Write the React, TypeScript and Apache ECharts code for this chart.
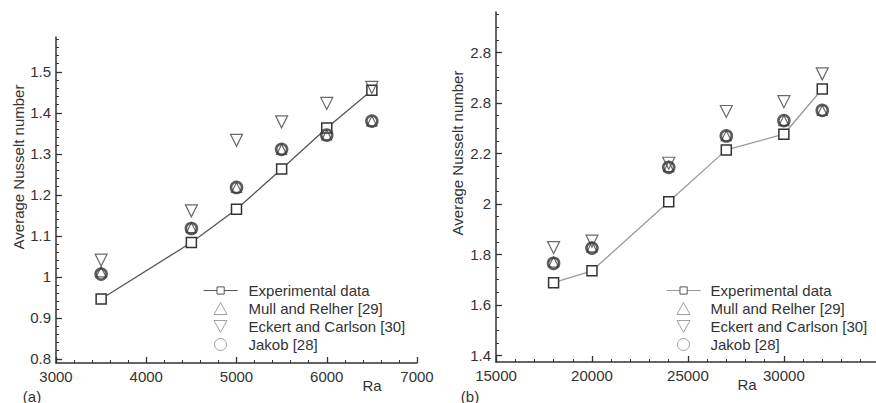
import React, { useEffect, useRef } from "react";
import * as echarts from "echarts";

// Panel (a)
const raA = [3500, 4500, 5000, 5500, 6000, 6500];
const expA = [0.946, 1.084, 1.165, 1.263, 1.363, 1.455];
const mullA = [1.012, 1.12, 1.218, 1.311, 1.346, 1.38];
const eckertA = [1.041, 1.161, 1.333, 1.378, 1.423, 1.462];
const jakobA = [1.007, 1.118, 1.218, 1.311, 1.346, 1.38];
const xTicksA = [3000, 4000, 5000, 6000, 7000];
const yTicksA = [0.8, 0.9, 1.0, 1.1, 1.2, 1.3, 1.4, 1.5];
const yLabelsA = ["0.8", "0.9", "1", "1.1", "1.2", "1.3", "1.4", "1.5"];

// Panel (b)
const raB = [18000, 20000, 24000, 27000, 30000, 32000];
const expB = [1.688, 1.735, 2.009, 2.214, 2.276, 2.455];
const mullB = [1.77, 1.83, 2.148, 2.27, 2.33, 2.37];
const eckertB = [1.827, 1.853, 2.161, 2.366, 2.405, 2.515];
const jakobB = [1.765, 1.825, 2.145, 2.269, 2.33, 2.37];
const xTicksB = [15000, 20000, 25000, 30000];
const yTicksB = [1.4, 1.6, 1.8, 2.0, 2.2, 2.4, 2.6];
const yLabelsB = ["1.4", "1.6", "1.8", "2", "2.2", "2.8", "2.8"];

const names = ["Experimental data", "Mull and Relher [29]", "Eckert and Carlson [30]", "Jakob [28]"];

const steps = (a: number, b: number, s: number) => {
  const out: number[] = [];
  const n = Math.round((b - a) / s);
  for (let i = 0; i <= n; i++) out.push(+(a + i * s).toFixed(4));
  return out;
};

const FONT = "Liberation Sans, Arial, sans-serif";
const TXT = "#333";
const AX = "#333";
const DOWN_TRI = "path://M0,0 L12,0 L6,11 Z";

export default function App() {
  const ref = useRef<HTMLDivElement>(null);
  useEffect(() => {
    if (!ref.current) return;
    const chart = echarts.init(ref.current, undefined, { renderer: "svg" });

    const majorAxis = (type: "x" | "y", gridIndex: number, min: number, max: number, ticks: number[], labels: string[]) => ({
      type: "value",
      gridIndex,
      min,
      max,
      position: type === "x" ? "bottom" : "left",
      axisLine: { show: true, onZero: false, lineStyle: { color: AX, width: 1.5 } },
      axisTick: { show: true, inside: true, length: 6, customValues: ticks, lineStyle: { color: AX, width: 1.3 } },
      axisLabel: {
        show: true,
        customValues: ticks,
        margin: type === "x" ? 6 : 5,
        color: TXT,
        fontFamily: FONT,
        fontSize: 15,
        formatter: (v: number) => {
          const i = ticks.findIndex((t) => Math.abs(t - v) < 1e-6);
          return i >= 0 ? labels[i] : "";
        },
      },
      splitLine: { show: false },
    });
    const minorAxis = (type: "x" | "y", gridIndex: number, min: number, max: number, ticks: number[]) => ({
      type: "value",
      gridIndex,
      min,
      max,
      position: type === "x" ? "bottom" : "left",
      axisLine: { show: false, onZero: false },
      axisTick: { show: true, inside: true, length: 3, customValues: ticks, lineStyle: { color: AX, width: 1 } },
      axisLabel: { show: false },
      splitLine: { show: false },
    });

    const sym = (panel: number, lineColor: string, ra: number[], e: number[], m: number[], k: number[], j: number[]) => {
      const xi = panel * 2;
      const yi = panel * 2;
      const zip = (v: number[]) => ra.map((r, i) => [r, v[i]]);
      return [
        {
          name: names[0], type: "line", xAxisIndex: xi, yAxisIndex: yi, data: zip(e),
          symbol: "rect", symbolSize: 10, showSymbol: true,
          lineStyle: { color: lineColor, width: 1.3 },
          itemStyle: { color: "#fff", borderColor: "#333", borderWidth: 1.5 },
          z: 3,
        },
        {
          name: names[1], type: "scatter", xAxisIndex: xi, yAxisIndex: yi, data: zip(m),
          symbol: "triangle", symbolSize: 10,
          itemStyle: { color: "transparent", borderColor: "#444", borderWidth: 1.2 },
          z: 4,
        },
        {
          name: names[2], type: "scatter", xAxisIndex: xi, yAxisIndex: yi, data: zip(k),
          symbol: "triangle", symbolRotate: 180, symbolSize: 12,
          itemStyle: { color: "transparent", borderColor: "#444", borderWidth: 1.2 },
          z: 4,
        },
        {
          name: names[3], type: "scatter", xAxisIndex: xi, yAxisIndex: yi, data: zip(j),
          symbol: "circle", symbolSize: 11,
          itemStyle: { color: "transparent", borderColor: "#333", borderWidth: 2.6 },
          z: 5,
        },
      ];
    };

    const legendBase = {
      orient: "vertical",
      padding: 0,
      itemGap: 3,
      selectedMode: false,
    };
    const textStyle = (pad: number) => ({ color: TXT, fontFamily: FONT, fontSize: 15, lineHeight: 15, padding: [0, 0, 0, pad] });
    const lineLegend = (left: number, lineColor: string, pad: number) => ({
      ...legendBase,
      left,
      top: 283,
      itemWidth: 34,
      itemHeight: 9,
      textStyle: textStyle(pad),
      data: [{ name: names[0], itemStyle: { color: "#fff", borderColor: "#555", borderWidth: 1 }, lineStyle: { color: lineColor, width: 1.2 } }],
    });
    const symLegend = (left: number, pad: number) => ({
      ...legendBase,
      left,
      top: 301,
      itemWidth: 13,
      itemHeight: 12,
      textStyle: textStyle(pad),
      data: [
        { name: names[1], icon: "triangle", itemStyle: { color: "transparent", borderColor: "#888", borderWidth: 1 } },
        { name: names[2], icon: DOWN_TRI, itemStyle: { color: "transparent", borderColor: "#888", borderWidth: 1 } },
        { name: names[3], icon: "circle", itemStyle: { color: "transparent", borderColor: "#888", borderWidth: 1 } },
      ],
    });

    const option: any = {
      animation: false,
      backgroundColor: "#fff",
      grid: [
        { left: 56, top: 37, width: 361, height: 326 },
        { left: 496, top: 12, width: 380, height: 350 },
      ],
      xAxis: [
        majorAxis("x", 0, 3000, 7000, xTicksA, xTicksA.map(String)),
        minorAxis("x", 0, 3000, 7000, steps(3000, 7000, 200)),
        majorAxis("x", 1, 15000, 34800, xTicksB, xTicksB.map(String)),
        minorAxis("x", 1, 15000, 34800, steps(15000, 34000, 1000)),
      ],
      yAxis: [
        majorAxis("y", 0, 0.79, 1.585, yTicksA, yLabelsA),
        minorAxis("y", 0, 0.79, 1.585, steps(0.8, 1.58, 0.02)),
        majorAxis("y", 1, 1.374, 2.76, yTicksB, yLabelsB),
        minorAxis("y", 1, 1.374, 2.76, steps(1.4, 2.75, 0.05)),
      ],
      legend: [
        lineLegend(203, "#555", 6),
        symLegend(213.5, 16.5),
        lineLegend(666, "#999", 5),
        symLegend(676.5, 15.5),
      ],
      series: [
        ...sym(0, "#555", raA, expA, mullA, eckertA, jakobA),
        ...sym(1, "#999", raB, expB, mullB, eckertB, jakobB),
      ],
      graphic: [
        { type: "text", x: 18, y: 167, rotation: Math.PI / 2, style: { text: "Average Nusselt number", fill: TXT, font: `15px ${FONT}`, align: "center", verticalAlign: "middle" } },
        { type: "text", x: 457, y: 153, rotation: Math.PI / 2, style: { text: "Average Nusselt number", fill: TXT, font: `15px ${FONT}`, align: "center", verticalAlign: "middle" } },
        { type: "text", x: 372, y: 385, style: { text: "Ra", fill: TXT, font: `15px ${FONT}`, align: "center", verticalAlign: "middle" } },
        { type: "text", x: 747, y: 384, style: { text: "Ra", fill: TXT, font: `15px ${FONT}`, align: "center", verticalAlign: "middle" } },
        { type: "text", x: 32, y: 396, style: { text: "(a)", fill: TXT, font: `15px ${FONT}`, align: "center", verticalAlign: "middle" } },
        { type: "text", x: 470, y: 396, style: { text: "(b)", fill: TXT, font: `15px ${FONT}`, align: "center", verticalAlign: "middle" } },
      ],
    };
    chart.setOption(option);
    return () => chart.dispose();
  }, []);
  return <div ref={ref} style={{ position: "fixed", left: 0, top: 0, width: 876, height: 403, background: "#fff" }} />;
}
